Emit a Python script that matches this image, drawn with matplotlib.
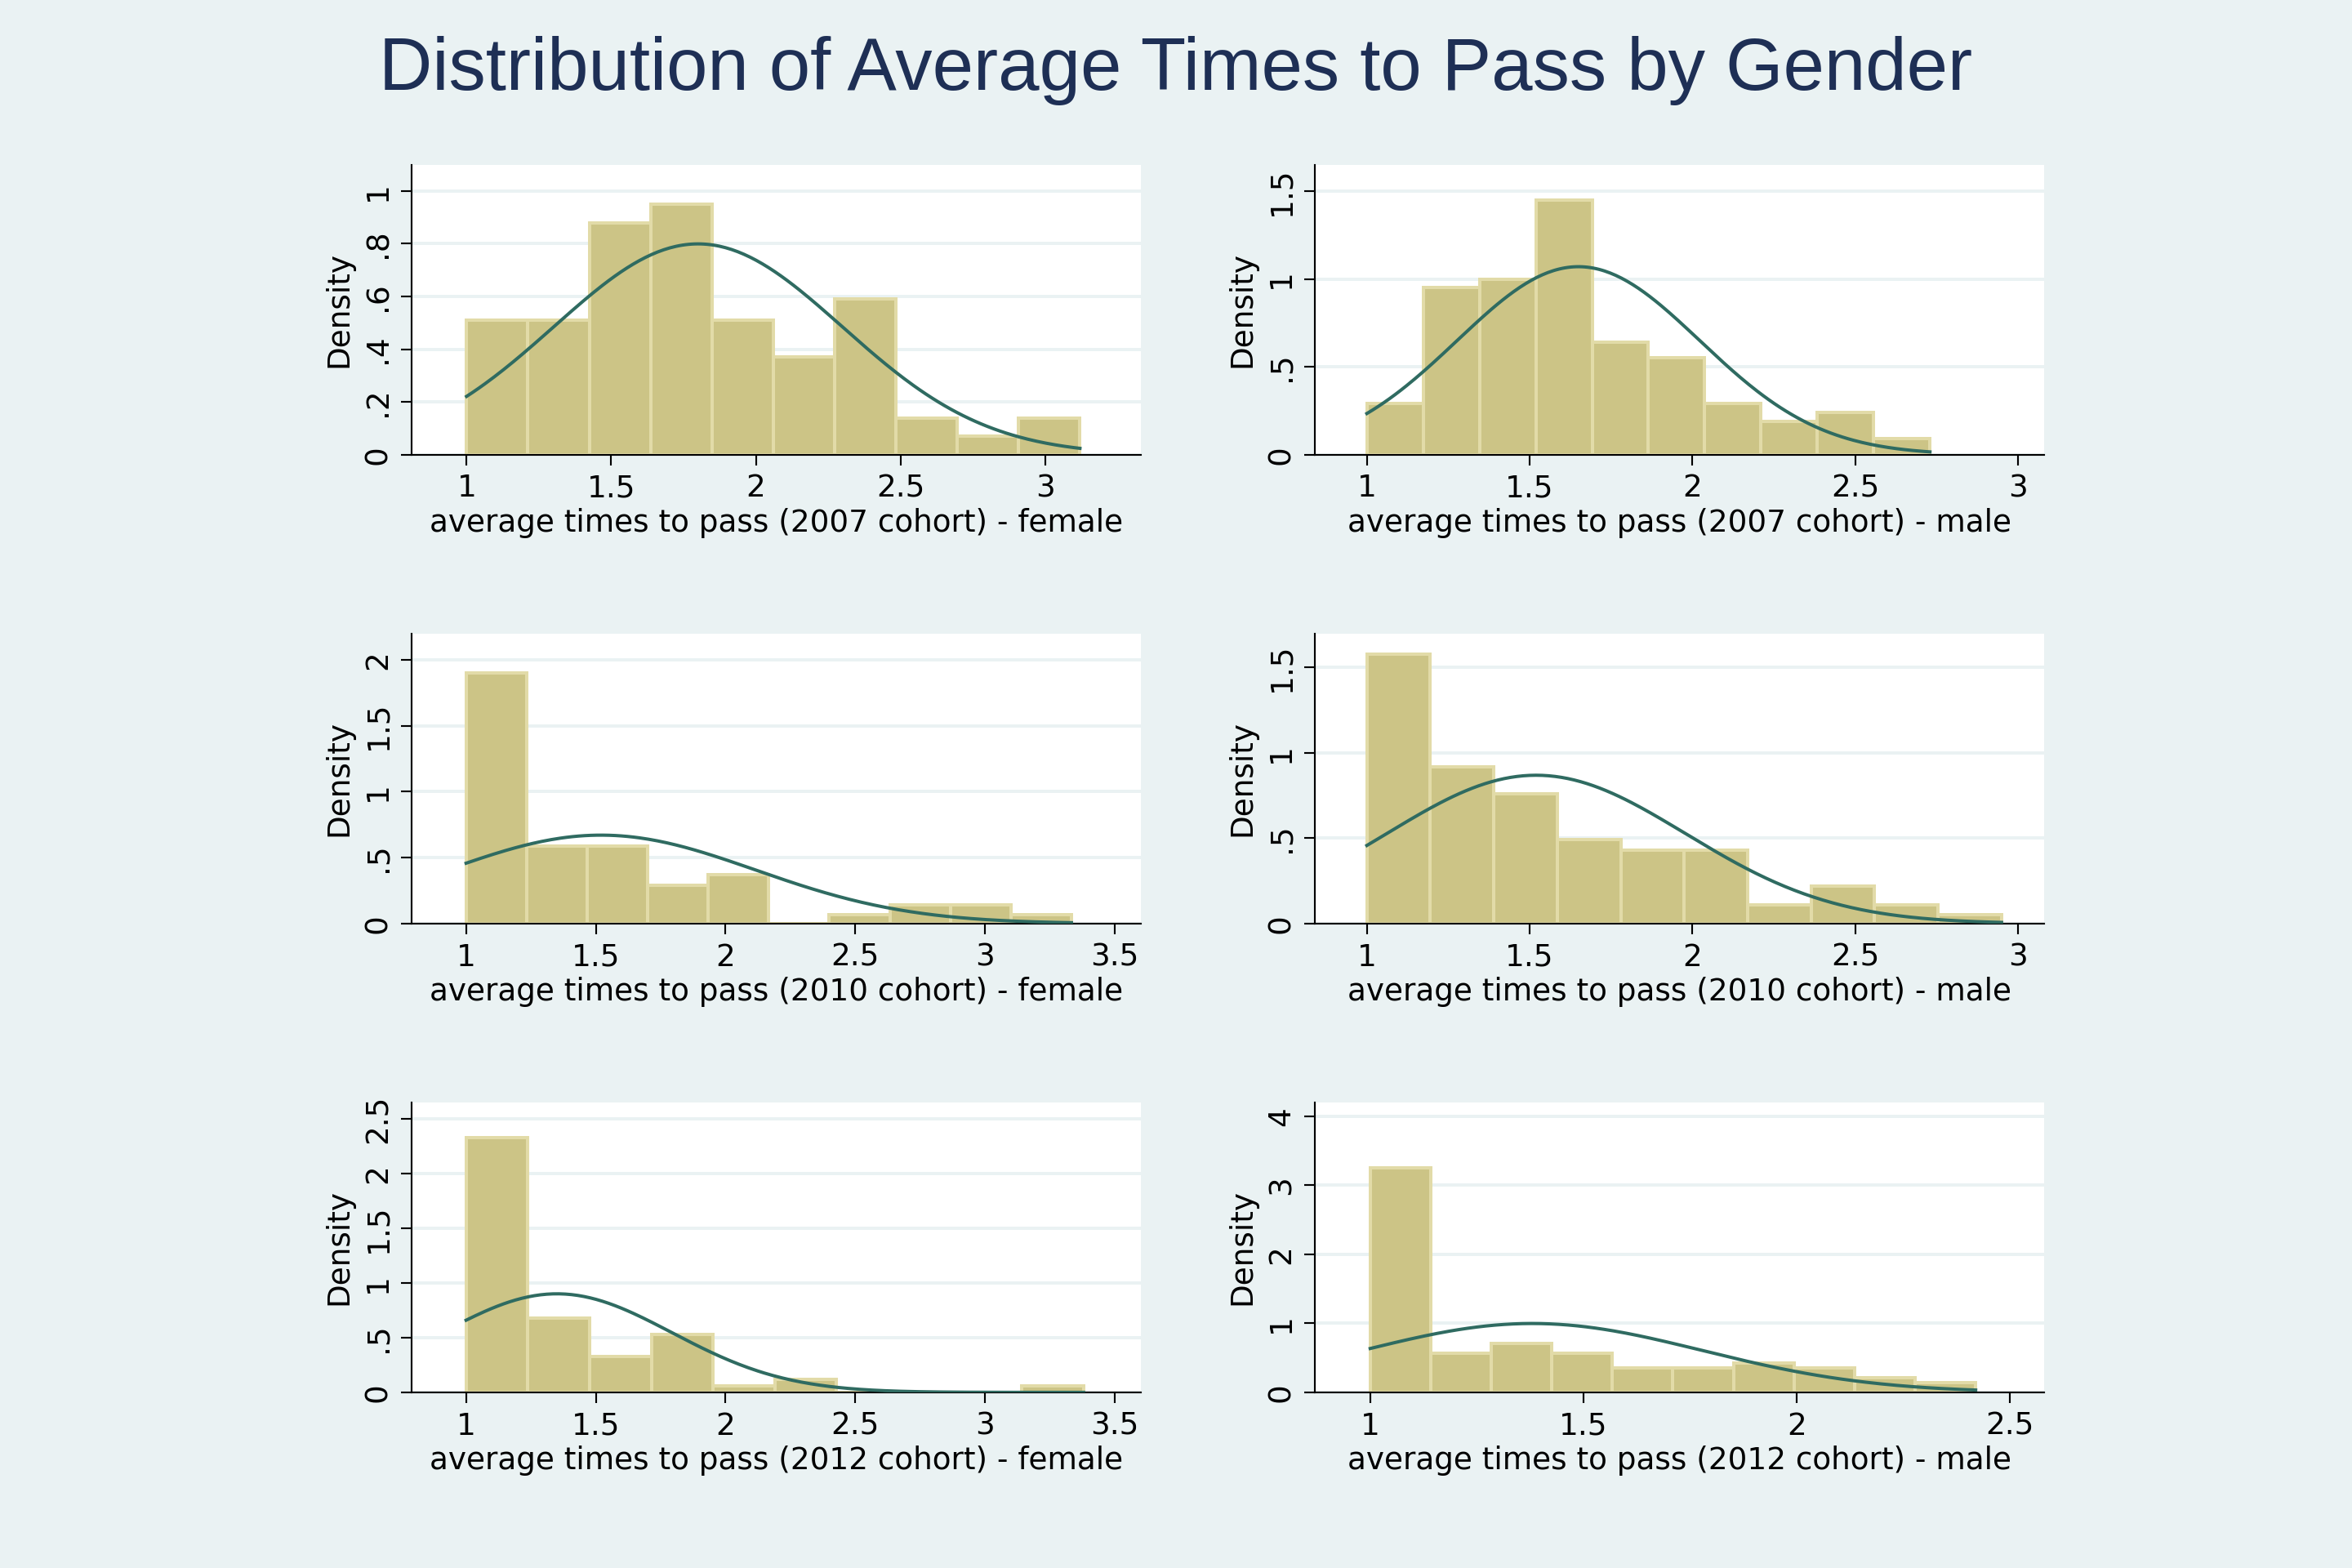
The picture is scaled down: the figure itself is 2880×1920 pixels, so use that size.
import numpy as np
import matplotlib.pyplot as plt

# bin start, bin width, bar heights (density), normal mean/sd per panel
labels = ["average times to pass (2007 cohort) - female", "average times to pass (2007 cohort) - male",
          "average times to pass (2010 cohort) - female", "average times to pass (2010 cohort) - male",
          "average times to pass (2012 cohort) - female", "average times to pass (2012 cohort) - male"]
bin_width = [0.212, 0.173, 0.2333, 0.195, 0.238, 0.142]
heights = [
    [.51, .51, .88, .95, .51, .37, .59, .14, .07, .14],
    [.29, .95, 1.0, 1.45, .64, .55, .29, .19, .24, .09],
    [1.9, .59, .59, .29, .37, 0, .07, .14, .14, .07],
    [1.58, .92, .76, .49, .43, .43, .11, .22, .11, .05],
    [2.33, .68, .33, .53, .06, .12, 0, 0, 0, .06],
    [3.25, .57, .71, .57, .35, .35, .42, .35, .21, .14],
]
norm_mean = [1.80, 1.65, 1.52, 1.52, 1.35, 1.38]
norm_sd = [0.499, 0.373, 0.595, 0.459, 0.443, 0.40]
xticks = [[1, 1.5, 2, 2.5, 3], [1, 1.5, 2, 2.5, 3], [1, 1.5, 2, 2.5, 3, 3.5],
          [1, 1.5, 2, 2.5, 3], [1, 1.5, 2, 2.5, 3, 3.5], [1, 1.5, 2, 2.5]]
yticks = [[0, .2, .4, .6, .8, 1], [0, .5, 1, 1.5], [0, .5, 1, 1.5, 2],
          [0, .5, 1, 1.5], [0, .5, 1, 1.5, 2, 2.5], [0, 1, 2, 3, 4]]
xlims = [(0.81, 3.33), (0.84, 3.08), (0.79, 3.6), (0.84, 3.08), (0.79, 3.6), (0.87, 2.58)]
ylims = [(0, 1.1), (0, 1.65), (0, 2.2), (0, 1.7), (0, 2.65), (0, 4.2)]

bg = "#EAF2F3"
fig = plt.figure(figsize=(15, 10), dpi=192, facecolor=bg)
fig.text(0.5, 0.955, "Distribution of Average Times to Pass by Gender", ha="center", va="center",
         fontsize=34, color="#1E2F55", family="Liberation Sans")

lefts = [0.175, 0.559]
bottoms = [0.710, 0.411, 0.112]
for i in range(6):
    ax = fig.add_axes([lefts[i % 2], bottoms[i // 2], 0.31, 0.185])
    ax.set_facecolor("white")
    edges = 1 + bin_width[i] * np.arange(11)
    ax.bar(edges[:-1], heights[i], width=bin_width[i], align="edge",
           color="#CCC486", edgecolor="#E2DBA8", linewidth=1.5, zorder=2)
    xs = np.linspace(edges[0], edges[-1], 200)
    ys = np.exp(-0.5 * ((xs - norm_mean[i]) / norm_sd[i]) ** 2) / (norm_sd[i] * np.sqrt(2 * np.pi))
    ax.plot(xs, ys, color="#2F6B61", linewidth=1.5, zorder=3)
    ax.set_xlim(*xlims[i])
    ax.set_ylim(*ylims[i])
    ax.set_xticks(xticks[i])
    ax.set_xticklabels([("%g" % v) for v in xticks[i]])
    ax.set_yticks(yticks[i])
    ax.set_yticklabels([("%g" % v).replace("0.", ".") if v < 1 and v > 0 else "%g" % v for v in yticks[i]],
                       rotation=90, va="center")
    ax.grid(axis="y", color=bg, linewidth=1.5, zorder=1)
    for s in ["top", "right"]:
        ax.spines[s].set_visible(False)
    ax.tick_params(labelsize=14, length=5)
    ax.set_xlabel(labels[i], fontsize=14, labelpad=2)
    ax.set_ylabel("Density", fontsize=14)

fig.savefig("out.png", dpi=192, facecolor=bg)
